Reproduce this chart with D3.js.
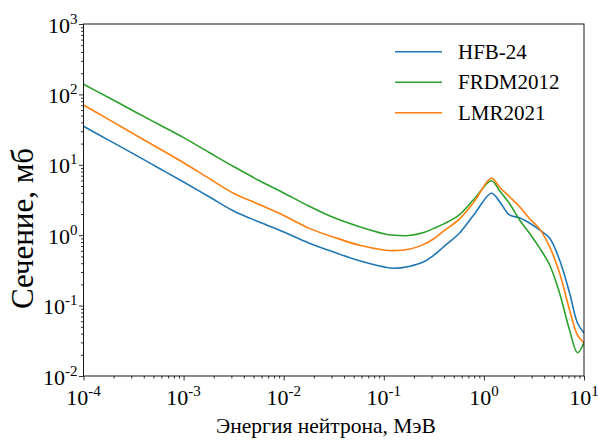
<!DOCTYPE html>
<html>
<head>
<meta charset="utf-8">
<script src="https://cdn.jsdelivr.net/npm/d3@7"></script>
<style>
  html, body { margin: 0; padding: 0; background: #fff; }
</style>
</head>
<body>
<svg id="chart" width="598" height="441"></svg>
<script>
// neutron energy, MeV (shared grid for all three models)
const energy = [1e-4, 1.78e-4, 3.16e-4, 5.62e-4, 1e-3, 1.78e-3, 3.16e-3, 5.62e-3, 1e-2, 1.78e-2,
  3.16e-2, 5.62e-2, 0.1, 0.126, 0.178, 0.251, 0.316, 0.398, 0.562, 0.794, 1.19, 1.435, 1.8, 2.29,
  2.88, 3.6, 4.53, 5.7, 7.18, 8.61, 10]

// cross sections, mb
const hfb24 = [35.2, 22.4, 14.3, 9.02, 5.69, 3.55, 2.21, 1.55, 1.11, 0.776,
  0.575, 0.437, 0.355, 0.339, 0.36, 0.42, 0.52, 0.69, 1.05, 1.95, 3.94, 3.0, 1.94, 1.76,
  1.48, 1.19, 0.91, 0.445, 0.151, 0.0566, 0.0408]
const frdm2012 = [139, 90.2, 58.2, 37.6, 24.3, 15.1, 9.44, 6.03, 3.98, 2.60,
  1.78, 1.33, 1.05, 1.0, 0.99, 1.09, 1.25, 1.45, 1.93, 3.24, 5.94, 4.27, 2.82, 1.62,
  1.05, 0.66, 0.38, 0.151, 0.0447, 0.0214, 0.0295]
const lmr2021 = [70.8, 44.2, 27.5, 17.2, 10.7, 6.46, 3.94, 2.75, 1.91, 1.26,
  0.94, 0.724, 0.617, 0.603, 0.631, 0.741, 0.891, 1.15, 1.66, 2.95, 6.43, 4.79, 3.52, 2.51,
  1.70, 1.23, 0.687, 0.29, 0.0865, 0.038, 0.0295]

const seriesNames = ['HFB-24', 'FRDM2012', 'LMR2021']
const seriesValues = [hfb24, frdm2012, lmr2021]
const seriesColors = ['#1f77b4', '#2ca02c', '#ff7f0e']

const xMajor = [1e-4, 1e-3, 1e-2, 1e-1, 1e0, 1e1]
const yMajor = [1e-2, 1e-1, 1e0, 1e1, 1e2, 1e3]

const serif = '"Liberation Serif", "Times New Roman", "DejaVu Serif", serif'
const margin = { left: 83.5, right: 14, top: 24, bottom: 65 }
const width = 598, height = 441
const svg = d3.select('#chart').attr('font-family', serif)

const x = d3.scaleLog().domain([1e-4, 10]).range([margin.left, width - margin.right])
const y = d3.scaleLog().domain([1e-2, 1e3]).range([height - margin.bottom, margin.top])

function minorTicks (majors) {
  const out = []
  for (let i = 0; i < majors.length - 1; i++) {
    for (let k = 2; k <= 9; k++) out.push(majors[i] * k)
  }
  return out
}

// x axis
svg.append('g')
  .attr('transform', `translate(0,${y.range()[0]})`)
  .call(d3.axisBottom(x).tickValues(minorTicks(xMajor)).tickSize(2.5).tickFormat(''))
svg.append('g')
  .attr('transform', `translate(0,${y.range()[0]})`)
  .call(d3.axisBottom(x).tickValues(xMajor).tickSize(4.5).tickFormat(''))

// y axis
svg.append('g')
  .attr('transform', `translate(${x.range()[0]},0)`)
  .call(d3.axisLeft(y).tickValues(minorTicks(yMajor)).tickSize(2.5).tickFormat(''))
svg.append('g')
  .attr('transform', `translate(${x.range()[0]},0)`)
  .call(d3.axisLeft(y).tickValues(yMajor).tickSize(4.5).tickFormat(''))

svg.selectAll('.domain').remove()
svg.selectAll('.tick line').attr('stroke', '#000').attr('stroke-width', 0.8)

function powerLabel (sel, v) {
  const e = Math.round(Math.log10(v))
  sel.append('tspan').text('10')
  sel.append('tspan').attr('dy', -9).attr('font-size', 15).text(String(e))
}

svg.append('g').selectAll('text')
  .data(xMajor)
  .join('text')
  .attr('x', d => x(d))
  .attr('y', 405)
  .attr('text-anchor', 'middle')
  .attr('font-family', serif)
  .attr('font-size', 22)
  .each(function (d) { powerLabel(d3.select(this), d) })

svg.append('g').selectAll('text')
  .data(yMajor)
  .join('text')
  .attr('x', x.range()[0] - 6)
  .attr('y', d => y(d) + 8.6)
  .attr('text-anchor', 'end')
  .attr('font-family', serif)
  .attr('font-size', 22)
  .each(function (d) { powerLabel(d3.select(this), d) })

// curves
svg.append('clipPath').attr('id', 'plot-clip')
  .append('rect')
  .attr('x', x.range()[0]).attr('y', y.range()[1])
  .attr('width', x.range()[1] - x.range()[0])
  .attr('height', y.range()[0] - y.range()[1])

const line = d3.line()
  .x(d => x(d[0]))
  .y(d => y(d[1]))
  .curve(d3.curveCatmullRom.alpha(0.5))

const lines = svg.append('g').attr('clip-path', 'url(#plot-clip)')
seriesValues.forEach((values, i) => {
  lines.append('path')
    .datum(energy.map((e, j) => [e, values[j]]))
    .attr('fill', 'none')
    .attr('stroke', seriesColors[i])
    .attr('stroke-width', 1.6)
    .attr('stroke-linejoin', 'round')
    .attr('d', line)
})

// frame
svg.append('rect')
  .attr('x', x.range()[0]).attr('y', y.range()[1])
  .attr('width', x.range()[1] - x.range()[0])
  .attr('height', y.range()[0] - y.range()[1])
  .attr('fill', 'none')
  .attr('stroke', '#000')
  .attr('stroke-width', 0.9)

// legend
const legend = svg.append('g')
seriesNames.forEach((name, i) => {
  const ly = 51.7 + i * 30.5
  legend.append('line')
    .attr('x1', 395).attr('x2', 442)
    .attr('y1', ly).attr('y2', ly)
    .attr('stroke', seriesColors[i])
    .attr('stroke-width', 1.6)
  legend.append('text')
    .attr('x', 458).attr('y', ly + 7)
    .attr('font-family', serif)
    .attr('font-size', 21)
    .text(name)
})

// axis titles
svg.append('text')
  .attr('x', 326).attr('y', 433)
  .attr('text-anchor', 'middle')
  .attr('font-family', serif)
  .attr('font-size', 21.5)
  .text('Энергия нейтрона, МэВ')

svg.append('text')
  .attr('transform', 'translate(33,228.5) rotate(-90)')
  .attr('text-anchor', 'middle')
  .attr('font-family', serif)
  .attr('font-size', 31)
  .text('Сечение, мб')
</script>
</body>
</html>
